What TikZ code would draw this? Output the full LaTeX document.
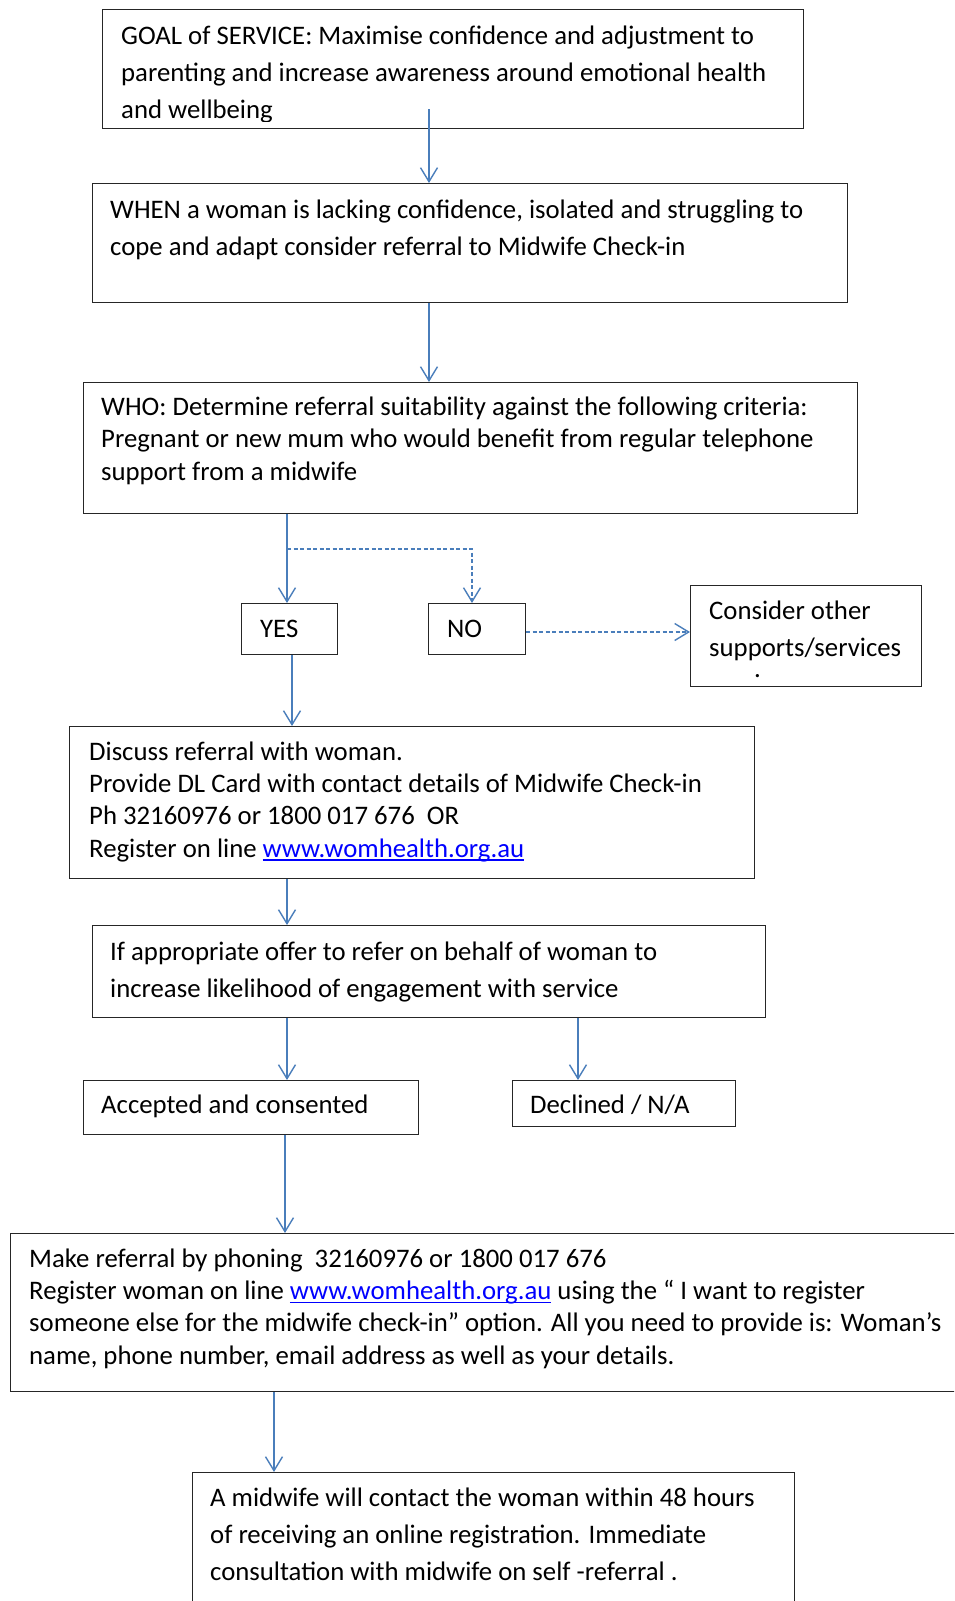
\documentclass[tikz,border=0pt]{standalone}
\usepackage{fontspec}
\setmainfont{Carlito}
\usetikzlibrary{arrows.meta}
\definecolor{arrowblue}{RGB}{74,126,187}
\definecolor{linkblue}{RGB}{0,0,255}
\newcommand{\ulink}[1]{\textcolor{linkblue}{\setbox0\hbox{#1}\rlap{\rule[-3.5pt]{\wd0}{1.3pt}}\box0}}
\begin{document}
\begin{tikzpicture}[x=1pt,y=-1pt,
 box/.style={draw=black!85, line width=1.2pt, inner sep=0pt, anchor=north west},
 txt/.style={anchor=base west, align=left, inner sep=0pt, font=\fontsize{26.75pt}{37pt}\selectfont},
 tight/.style={font=\fontsize{26.75pt}{32.3pt}\selectfont},
 arr/.style={draw=arrowblue, line width=1.4pt, -{Straight Barb[length=14pt,width=17pt]}},
 dsh/.style={arr, dash pattern=on 4pt off 2.5pt}]
\clip (0,0) rectangle (954,1601);
\fill[white] (0,0) rectangle (954,1601);

% boxes
\node[box, minimum width=701pt, minimum height=119pt] (b1) at (102,9) {};
\node[box, minimum width=755pt, minimum height=119pt] (b2) at (92,183) {};
\node[box, minimum width=774pt, minimum height=131pt] (b3) at (83,382) {};
\node[box, minimum width=96pt, minimum height=51pt] (yes) at (241,603) {};
\node[box, minimum width=97pt, minimum height=51pt] (no) at (428,603) {};
\node[box, minimum width=231pt, minimum height=101pt] (cons) at (690,585) {};
\node[box, minimum width=685pt, minimum height=152pt] (b4) at (69,726) {};
\node[box, minimum width=673pt, minimum height=92pt] (b5) at (92,925) {};
\node[box, minimum width=335pt, minimum height=54pt] (acc) at (83,1080) {};
\node[box, minimum width=223pt, minimum height=46pt] (dec) at (512,1080) {};
\node[box, minimum width=960pt, minimum height=158pt] (b6) at (10,1233) {};
\node[box, minimum width=602pt, minimum height=160pt] (b7) at (192,1472) {};

% texts (anchor = baseline of the last line)
\begin{scope}
\clip (102,9) rectangle (803,121);
\node[txt] (t1) at (121,118) {GOAL of SERVICE: Maximise confidence and adjustment to\\parenting and increase awareness around emotional health\\and wellbeing};
\end{scope}
\node[txt] (t2) at (110,255) {WHEN a woman is lacking confidence, isolated and struggling to\\cope and adapt consider referral to Midwife Check-in};
\node[txt, tight] (t3) at (101,480) {WHO: Determine referral suitability against the following criteria:\\Pregnant or new mum who would benefit from regular telephone\\support from a midwife};
\node[txt] (tyes) at (260,637) {YES};
\node[txt] (tno) at (447,637) {NO};
\node[txt] (tcons) at (709,656) {Consider other\\supports/services};
\node[txt] (tdot) at (754,677) {.};
\node[txt, tight] (t4) at (89,857) {Discuss referral with woman.\\Provide DL Card with contact details of Midwife Check-in\\Ph 32160976 or 1800 017 676~ OR\\Register on line \ulink{www.womhealth.org.au}};
\node[txt] (t5) at (110,997) {If appropriate offer to refer on behalf of woman to\\increase likelihood of engagement with service};
\node[txt] (tacc) at (101,1113) {Accepted and consented};
\node[txt] (tdec) at (530,1113) {Declined / N/A};
\node[txt, tight] (t6) at (29,1364) {Make referral by phoning~ 32160976 or 1800 017 676\\Register woman on line \ulink{www.womhealth.org.au} using the “ I want to register\\someone else for the midwife check-in” option. All you need to provide is: Woman’s\\name, phone number, email address as well as your details.};
\node[txt] (t7) at (210,1580) {A midwife will contact the woman within 48 hours\\of receiving an online registration. Immediate\\consultation with midwife on self -referral .};

% connector columns
\coordinate (c1) at (429,109);
\coordinate (c2) at (287,0);
\coordinate (split) at (287,549);
\coordinate (c3) at (472,0);
\coordinate (c4) at (292,0);
\coordinate (c5) at (578,0);
\coordinate (c6) at (285,0);
\coordinate (c7) at (274,0);
\coordinate (r1) at (0,632);

% connectors
\draw[arr] (c1) -- (b2.north -| c1);
\draw[arr] (b2.south -| c1) -- (b3.north -| c1);
\draw[arr] (b3.south -| c2) -- (yes.north -| c2);
\draw[dsh] (split) -| (no.north -| c3);
\draw[dsh] (no.east |- r1) -- (cons.west |- r1);
\draw[arr] (yes.south -| c4) -- (b4.north -| c4);
\draw[arr] (b4.south -| c2) -- (b5.north -| c2);
\draw[arr] (b5.south -| c2) -- (acc.north -| c2);
\draw[arr] (b5.south -| c5) -- (dec.north -| c5);
\draw[arr] (acc.south -| c6) -- (b6.north -| c6);
\draw[arr] (b6.south -| c7) -- (b7.north -| c7);
\end{tikzpicture}
\end{document}
